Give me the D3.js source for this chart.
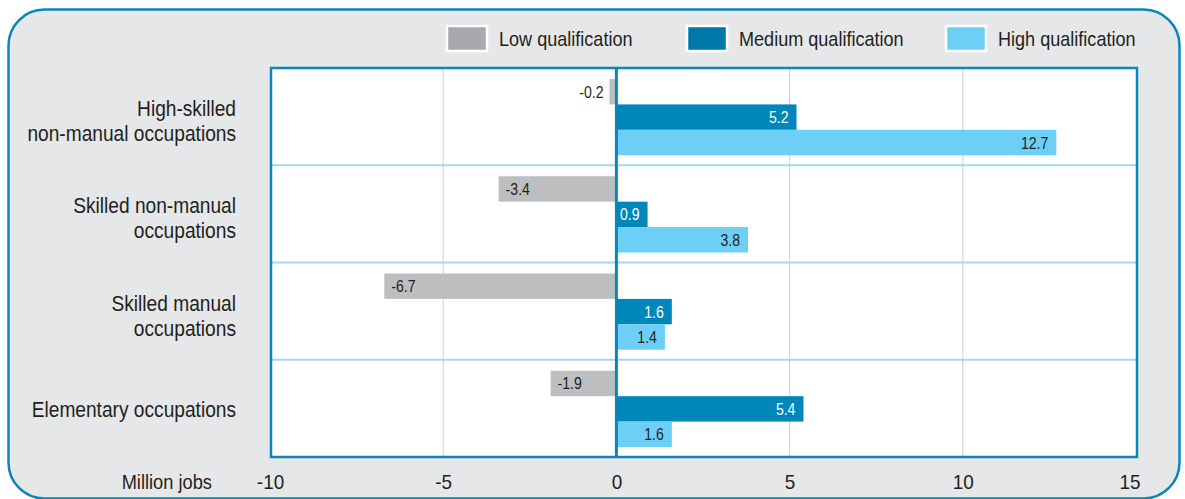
<!DOCTYPE html>
<html><head><meta charset="utf-8">
<script src="https://cdn.jsdelivr.net/npm/d3@7"></script>
<style>
html,body{margin:0;padding:0;background:#fff;}
svg text{font-family:"Liberation Sans","Arial",sans-serif;fill:#231f20;}
</style></head>
<body><svg id="c" width="1185" height="499"></svg>
<script>
const categories = [
  ["High-skilled", "non-manual occupations"],
  ["Skilled non-manual", "occupations"],
  ["Skilled manual", "occupations"],
  ["Elementary occupations"]
];
const seriesNames = ["Low qualification", "Medium qualification", "High qualification"];
const lowValues = [-0.2, -3.4, -6.7, -1.9];
const mediumValues = [5.2, 0.9, 1.6, 5.4];
const highValues = [12.7, 3.8, 1.4, 1.6];
const tickValues = [-10, -5, 0, 5, 10, 15];
const axisTitle = "Million jobs";

const colors = ["#bcbec0", "#0087b9", "#6dcff6"];
const legendColors = ["#a7a9ac", "#0078a8", "#6dcff6"];
const labelColors = ["#231f20", "#ffffff", "#231f20"];
const series = [lowValues, mediumValues, highValues];

const fmt = v => d3.format(".1f")(v).replace("\u2212", "-");
function condense(sel, ratio) {
  sel.each(function() {
    const len = this.getComputedTextLength();
    d3.select(this).attr("textLength", len * ratio).attr("lengthAdjust", "spacingAndGlyphs");
  });
}

const svg = d3.select("#c");
const blue = "#0a86b8";

// outer rounded panel
svg.append("rect").attr("x", 8.5).attr("y", 9.5).attr("width", 1171).attr("height", 489)
  .attr("rx", 36).attr("ry", 36).attr("fill", "#e6e7e8").attr("stroke", blue).attr("stroke-width", 2.5);

const plot = {left: 271, right: 1137, top: 68, bottom: 457};
const x = d3.scaleLinear().domain([-10, 15]).range([270, 1136]);
const y0 = d3.scaleBand().domain(d3.range(categories.length)).range([plot.top, plot.bottom]);
const y1 = d3.scaleBand().domain(d3.range(series.length)).range([11, y0.bandwidth() - 10]);

svg.append("rect").attr("x", plot.left).attr("y", plot.top)
  .attr("width", plot.right - plot.left).attr("height", plot.bottom - plot.top).attr("fill", "#fff");

// vertical gridlines
svg.append("g").selectAll("line").data(tickValues.filter(t => t !== 0 && t > -10 && t < 15)).join("line")
  .attr("x1", d => x(d)).attr("x2", d => x(d)).attr("y1", plot.top).attr("y2", plot.bottom)
  .attr("stroke", "#d6d7d9").attr("stroke-width", 1.2);

// band separators
svg.append("g").selectAll("line").data(d3.range(1, categories.length)).join("line")
  .attr("x1", plot.left).attr("x2", plot.right).attr("y1", d => y0(d)).attr("y2", d => y0(d))
  .attr("stroke", "#a5d6ec").attr("stroke-width", 2);

// bars
const bars = [];
categories.forEach((c, i) => series.forEach((s, j) => bars.push({i, j, v: s[i]})));
svg.append("g").selectAll("rect").data(bars).join("rect")
  .attr("x", d => x(Math.min(0, d.v))).attr("width", d => Math.abs(x(d.v) - x(0)))
  .attr("y", d => y0(d.i) + y1(d.j)).attr("height", y1.bandwidth())
  .attr("fill", d => colors[d.j]);

// value labels
const vl = svg.append("g").selectAll("text").data(bars).join("text")
  .attr("y", d => y0(d.i) + y1(d.j) + y1.bandwidth() / 2 + 6)
  .attr("font-size", 16)
  .each(function(d) {
    const t = d3.select(this).text(fmt(d.v));
    const w = Math.abs(x(d.v) - x(0));
    if (d.v >= 0) {
      t.attr("x", x(d.v) - 8).attr("text-anchor", "end").style("fill", labelColors[d.j]);
    } else if (w > 40) {
      t.attr("x", x(d.v) + 7).attr("text-anchor", "start").style("fill", labelColors[d.j]);
    } else {
      t.attr("x", x(d.v) - 6).attr("text-anchor", "end").style("fill", "#231f20");
    }
  });
condense(vl, 0.88);

// zero line
svg.append("line").attr("x1", x(0)).attr("x2", x(0)).attr("y1", plot.top).attr("y2", plot.bottom)
  .attr("stroke", blue).attr("stroke-width", 3);

// plot border
svg.append("rect").attr("x", plot.left).attr("y", plot.top)
  .attr("width", plot.right - plot.left).attr("height", plot.bottom - plot.top)
  .attr("fill", "none").attr("stroke", blue).attr("stroke-width", 2.5);

// x axis labels
const xa = svg.append("g").attr("transform", `translate(0,${plot.bottom})`)
  .call(d3.axisBottom(x).tickValues(tickValues).tickSize(0).tickPadding(0)
    .tickFormat(d => d3.format("d")(d).replace("\u2212", "-")));
xa.select(".domain").remove();
xa.attr("font-family", null).attr("font-size", null);
const tl = xa.selectAll("text").attr("font-size", 21).attr("dy", 0).attr("y", 32);
xa.selectAll(".tick").filter(d => d === 15).select("text").attr("text-anchor", "end").attr("x", 4);
condense(tl, 0.9);
const at = svg.append("text").attr("x", 212).attr("y", plot.bottom + 32).attr("text-anchor", "end")
  .attr("font-size", 21).text(axisTitle);
condense(at, 0.87);

// category labels
const catLines = [];
categories.forEach((lines, i) => {
  const cy = y0(i) + y0.bandwidth() / 2 + (lines.length > 1 ? 4 : 1);
  const start = cy - (lines.length - 1) * 12.5 + 8;
  lines.forEach((t, k) => catLines.push({t, y: start + k * 25}));
});
const cl = svg.append("g").selectAll("text").data(catLines).join("text")
  .attr("text-anchor", "end").attr("font-size", 22).attr("x", 236).attr("y", d => d.y).text(d => d.t);
condense(cl, 0.87);

// legend
const legendX = [447, 687, 946];
const lg = svg.append("g").selectAll("g").data(seriesNames).join("g")
  .attr("transform", (d, k) => `translate(${legendX[k]},26)`);
lg.append("rect").attr("x", 0).attr("y", 0).attr("width", 40).attr("height", 25)
  .attr("fill", (d, k) => legendColors[k]).attr("stroke", "#fff").attr("stroke-width", 2.5);
const lt = lg.append("text").attr("x", 52).attr("y", 20).attr("font-size", 21).text(d => d);
condense(lt, 0.86);
</script></body></html>
